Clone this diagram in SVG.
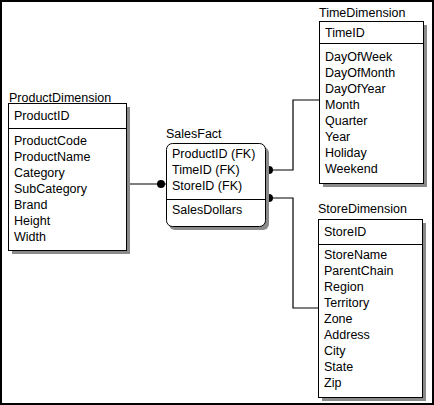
<svg xmlns="http://www.w3.org/2000/svg" width="434" height="405" viewBox="0 0 434 405">
<style>
text{font-family:"Liberation Sans",Arial,sans-serif;font-size:12.5px;fill:#000}
.box{fill:#fff;stroke:#000;stroke-width:1}
.sh{fill:#8a8a8a}
.div{stroke:#000;stroke-width:1}
.con{fill:none;stroke:#000;stroke-width:1.2}
.dot{fill:#000}
</style>
<rect x="0" y="0" width="434" height="405" fill="#fff"/>
<rect x="1" y="1" width="432" height="403" fill="none" stroke="#000" stroke-width="2"/>
<g id="connectors">
<line class="con" x1="126" y1="184" x2="166" y2="184"/>
<circle class="dot" cx="161" cy="184" r="4"/>
<polyline class="con" points="265,170 293,170 293,100 319,100"/>
<circle class="dot" cx="269" cy="170" r="4"/>
<polyline class="con" points="265,198 293,198 293,308 318,308"/>
<circle class="dot" cx="269" cy="198" r="4"/>
</g>
<g id="ProductDimension">
<text x="9" y="102">ProductDimension</text>
<rect class="sh" x="12" y="107" width="118" height="147"/>
<rect class="box" x="8.5" y="103.5" width="118" height="147"/>
<line class="div" x1="8.5" y1="128.5" x2="126.5" y2="128.5"/>
<text x="14" y="120">ProductID</text>
<text x="14" y="145">ProductCode</text>
<text x="14" y="161">ProductName</text>
<text x="14" y="177">Category</text>
<text x="14" y="193">SubCategory</text>
<text x="14" y="209">Brand</text>
<text x="14" y="225">Height</text>
<text x="14" y="241">Width</text>
</g>
<g id="SalesFact">
<text x="166" y="138">SalesFact</text>
<rect class="sh" x="169" y="147" width="100" height="83" rx="6"/>
<rect class="box" x="166.5" y="143.5" width="99" height="83" rx="6"/>
<line class="div" x1="166.5" y1="199.5" x2="265.5" y2="199.5"/>
<text x="172" y="158">ProductID (FK)</text>
<text x="172" y="174">TimeID (FK)</text>
<text x="172" y="190">StoreID (FK)</text>
<text x="172" y="214">SalesDollars</text>
</g>
<g id="TimeDimension">
<text x="319" y="17">TimeDimension</text>
<rect class="sh" x="323" y="25" width="104" height="162"/>
<rect class="box" x="319.5" y="21.5" width="104" height="162"/>
<line class="div" x1="319.5" y1="43.5" x2="423.5" y2="43.5"/>
<text x="325" y="37">TimeID</text>
<text x="325" y="61">DayOfWeek</text>
<text x="325" y="77">DayOfMonth</text>
<text x="325" y="93">DayOfYear</text>
<text x="325" y="109">Month</text>
<text x="325" y="125">Quarter</text>
<text x="325" y="141">Year</text>
<text x="325" y="157">Holiday</text>
<text x="325" y="173">Weekend</text>
</g>
<g id="StoreDimension">
<text x="318" y="213">StoreDimension</text>
<rect class="sh" x="322" y="223" width="104" height="178"/>
<rect class="box" x="318.5" y="219.5" width="104" height="178"/>
<line class="div" x1="318.5" y1="244.5" x2="422.5" y2="244.5"/>
<text x="324" y="236">StoreID</text>
<text x="324" y="259">StoreName</text>
<text x="324" y="275">ParentChain</text>
<text x="324" y="291">Region</text>
<text x="324" y="307">Territory</text>
<text x="324" y="323">Zone</text>
<text x="324" y="339">Address</text>
<text x="324" y="355">City</text>
<text x="324" y="371">State</text>
<text x="324" y="387">Zip</text>
</g>
</svg>
